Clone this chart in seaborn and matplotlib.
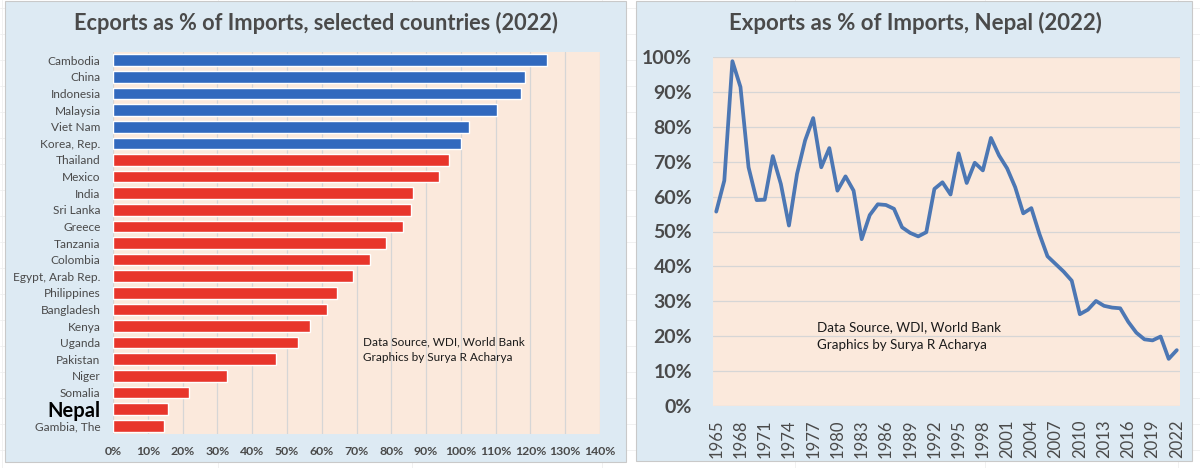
import matplotlib
matplotlib.use("Agg")
import matplotlib.pyplot as plt
import matplotlib.patches as mpatches
import seaborn as sns
import pandas as pd
import numpy as np

# ---------------- data ----------------
countries = ["Cambodia", "China", "Indonesia", "Malaysia", "Viet Nam", "Korea, Rep.",
             "Thailand", "Mexico", "India", "Sri Lanka", "Greece", "Tanzania", "Colombia",
             "Egypt, Arab Rep.", "Philippines", "Bangladesh", "Kenya", "Uganda", "Pakistan",
             "Niger", "Somalia", "Nepal", "Gambia, The"]
ratio_2022 = [124.7, 118.5, 117.2, 110.4, 102.4, 100.0,
              96.5, 93.8, 86.1, 85.6, 83.5, 78.5, 73.9,
              68.9, 64.4, 61.5, 56.7, 53.3, 46.8,
              32.7, 21.9, 15.7, 14.8]
groups = ["surplus"] * 6 + ["deficit"] * 17

years = list(range(1965, 2023))
nepal_ratio = [55.7, 64.6, 98.8, 91.4, 68.4, 59.0, 59.1, 71.6, 63.6, 51.7,
               66.5, 76.1, 82.5, 68.4, 73.9, 61.7, 65.8, 61.7, 47.8, 54.7,
               57.8, 57.6, 56.5, 51.2, 49.6, 48.6, 49.8, 62.2, 64.1, 60.6,
               72.4, 63.9, 69.7, 67.5, 76.8, 71.8, 68.1, 62.7, 55.2, 56.7,
               49.3, 42.9, 40.7, 38.5, 35.9, 26.3, 27.6, 30.1, 28.7, 28.2,
               28.0, 24.1, 21.0, 19.1, 18.8, 19.9, 13.5, 16.0]

bar_ticks = list(range(0, 141, 10))
line_ticks = list(range(0, 101, 10))
year_ticks = list(range(1965, 2023, 3))

left_title = "Ecports as % of Imports, selected countries (2022)"
right_title = "Exports as % of Imports, Nepal (2022)"
credit = "Data Source, WDI, World Bank\nGraphics by Surya R Acharya"

# ---------------- style ----------------
sns.set_theme(style="white")
plt.rcParams["font.family"] = ["Lato", "DejaVu Sans"]

W, H = 1200, 468
fig = plt.figure(figsize=(W / 100, H / 100), dpi=100)
fig.patch.set_facecolor("white")

PANEL = "#DDEAF3"
PLOT = "#FBE9DC"
GRID = "#D6D6D6"
TXT = "#4A4A4A"
BLUE = "#3169BE"
RED = "#E8352B"
LINE = "#4C77B4"


def fr(x0, y0, x1, y1):
    """pixel box (top-left origin) -> figure fraction rect"""
    return [x0 / W, (H - y1) / H, (x1 - x0) / W, (y1 - y0) / H]


# faint spreadsheet grid behind panels
for yy in range(8, H, 26):
    fig.add_artist(plt.Line2D([0, 1], [1 - yy / H] * 2, color="#EFEFEF", lw=0.6,
                              transform=fig.transFigure, zorder=-3))
for xx in [2, 218, 412, 602, 795, 985, 1178]:
    fig.add_artist(plt.Line2D([xx / W] * 2, [0, 1], color="#EFEFEF", lw=0.6,
                              transform=fig.transFigure, zorder=-3))

# panels
for (x0, y0, x1, y1) in [(5, 1, 626, 462), (636, 1, 1192, 461)]:
    r = fr(x0, y0, x1, y1)
    fig.add_artist(mpatches.Rectangle((r[0], r[1]), r[2], r[3], transform=fig.transFigure,
                                      facecolor=PANEL, edgecolor="#C9C9C9", lw=0.8, zorder=-2))

# ---------------- left: bar chart ----------------
df_bar = pd.DataFrame({"country": countries, "ratio": ratio_2022, "group": groups})
ax1 = fig.add_axes(fr(113, 52, 600, 434))
ax1.set_facecolor(PLOT)
sns.barplot(data=df_bar, x="ratio", y="country", hue="group", orient="h",
            palette={"surplus": BLUE, "deficit": RED}, dodge=False, width=0.7,
            legend=False, saturation=1, ax=ax1, zorder=3)
ax1.set_xlim(0, 140)
ax1.set_ylim(len(countries) - 0.5, -0.5)
ax1.set_xticks(bar_ticks)
ax1.set_xticklabels([f"{t}%" for t in bar_ticks], fontsize=8.8, color=TXT, fontweight="bold")
ax1.xaxis.grid(True, color=GRID, lw=0.9, zorder=0)
ax1.set_axisbelow(True)
ax1.tick_params(axis="x", length=0, pad=8.5)
ax1.tick_params(axis="y", length=0, pad=9)
for lab in ax1.get_yticklabels():
    lab.set_fontsize(8.6)
    lab.set_color(TXT)
    if lab.get_text() == "Nepal":
        lab.set_fontsize(14.5)
        lab.set_fontweight("bold")
        lab.set_color("black")
ax1.set_xlabel("")
ax1.set_ylabel("")
for s in ax1.spines.values():
    s.set_visible(False)
fig.text(363 / W, 1 - 336 / H, credit, fontsize=8.5,
         color="#1A1A1A", va="top", ha="left", linespacing=1.55)
fig.text(316 / W, 1 - 23 / H, left_title, ha="center", va="center", fontsize=15.7,
         fontweight="bold", color=TXT)

# ---------------- right: line chart ----------------
df_line = pd.DataFrame({"year": years, "ratio": nepal_ratio})
ax2 = fig.add_axes(fr(713, 57, 1180, 406))
ax2.set_facecolor(PLOT)
sns.lineplot(data=df_line, x="year", y="ratio", color=LINE, lw=2.7, ax=ax2, zorder=3)
ax2.set_xlim(1965 - 0.4, 2022 + 0.4)
ax2.set_ylim(0, 100)
ax2.set_yticks(line_ticks)
ax2.set_yticklabels([f"{t}%" for t in line_ticks], fontsize=14, fontweight="bold", color=TXT)
ax2.set_xticks(year_ticks)
ax2.set_xticklabels([str(y) for y in year_ticks], rotation=90, fontsize=12, color=TXT)
ax2.yaxis.grid(True, color=GRID, lw=0.9, zorder=0)
ax2.set_axisbelow(True)
ax2.tick_params(axis="y", length=0, pad=15)
ax2.tick_params(axis="x", length=0, pad=10)
ax2.set_xlabel("")
ax2.set_ylabel("")
for s in ax2.spines.values():
    s.set_visible(False)
fig.text(817 / W, 1 - 321 / H, credit, fontsize=9.6, color="#1A1A1A", va="top",
         ha="left", linespacing=1.6)
fig.text(915 / W, 1 - 23 / H, right_title, ha="center", va="center", fontsize=16,
         fontweight="bold", color=TXT)

fig.savefig("out.png", dpi=100, facecolor="white")
